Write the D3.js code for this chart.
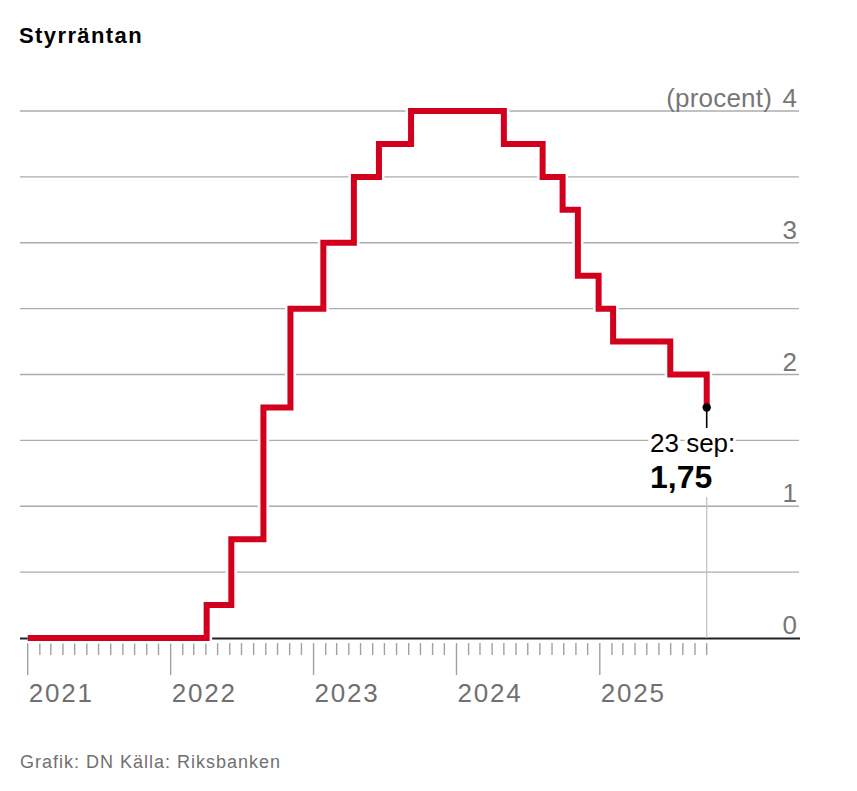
<!DOCTYPE html>
<html>
<head>
<meta charset="utf-8">
<title>Styrräntan</title>
<style>
body {
  margin: 0;
  background-color: #ffffff;
}
text {
  font-family: "Liberation Sans", Arial, sans-serif;
}
</style>
</head>
<body>
<script src="https://cdn.jsdelivr.net/npm/d3@7"></script>
<script>

// styrräntan, steg (datum då nivån börjar gälla i bilden)
var rateDates = ["2021-01-01", "2022-04-03", "2022-06-05", "2022-08-26", "2022-11-03",
                 "2023-01-26", "2023-04-14", "2023-06-17", "2023-09-07", "2024-05-01",
                 "2024-08-08", "2024-09-28", "2024-11-06", "2024-12-29", "2025-02-04",
                 "2025-06-30", "2025-10-01"];
var rateValues = [0, 0.25, 0.75, 1.75, 2.5,
                  3.0, 3.5, 3.75, 4.0, 3.75,
                  3.5, 3.25, 2.75, 2.5, 2.25,
                  2.0, 1.75];
var gridValues = [0.5, 1, 1.5, 2, 2.5, 3, 3.5, 4];
var yTickValues = [0, 1, 2, 3, 4];
var yearLabels = ["2021", "2022", "2023", "2024", "2025"];
var endLabel = "23 sep:";
var endValue = "1,75";

var w = 857;
var h = 791;
var left = 20;
var right = 800;

var parse = d3.timeParse("%Y-%m-%d");
var data = rateDates.map(function(d, i) {
  return {date: parse(d), value: rateValues[i]};
});

var x = d3.scaleTime()
          .domain([parse("2021-01-01"), parse("2025-10-01")])
          .range([27.7, 706.7]);
var y = d3.scaleLinear()
          .domain([0, 4])
          .range([638, 111]);

var svg = d3.select("body")
            .append("svg")
            .attr("width", w)
            .attr("height", h);

// title
svg.append("text")
   .text("Styrräntan")
   .attr("x", 19)
   .attr("y", 43)
   .attr("font-size", "22px")
   .attr("font-weight", "bold")
   .attr("letter-spacing", "1.4px")
   .attr("fill", "#000");

// grid
svg.selectAll("line.grid")
   .data(gridValues)
   .enter()
   .append("line")
   .attr("class", "grid")
   .attr("x1", left)
   .attr("x2", right - 1)
   .attr("y1", function(d) { return y(d); })
   .attr("y2", function(d) { return y(d); })
   .attr("stroke", "#acacac")
   .attr("stroke-width", 1.3);

// y labels
svg.selectAll("text.ylab")
   .data(yTickValues)
   .enter()
   .append("text")
   .attr("class", "ylab")
   .text(function(d) { return d; })
   .attr("x", 797)
   .attr("y", function(d) { return y(d) - 4; })
   .attr("text-anchor", "end")
   .attr("font-size", "26px")
   .attr("fill", "#777");

svg.append("text")
   .text("(procent)")
   .attr("x", 772)
   .attr("y", y(4) - 4)
   .attr("text-anchor", "end")
   .attr("font-size", "26px")
   .attr("letter-spacing", "0.2px")
   .attr("fill", "#777");

// ticks
var months = x.ticks(d3.timeMonth.every(1));
svg.selectAll("line.tick")
   .data(months)
   .enter()
   .append("line")
   .attr("class", "tick")
   .attr("x1", function(d) { return x(d); })
   .attr("x2", function(d) { return x(d); })
   .attr("y1", 643)
   .attr("y2", function(d) { return d.getMonth() === 0 ? 675 : 655; })
   .attr("stroke", "#a0a0a0")
   .attr("stroke-width", 1.4);

svg.selectAll("text.year")
   .data(yearLabels)
   .enter()
   .append("text")
   .attr("class", "year")
   .text(function(d) { return d; })
   .attr("x", function(d) { return x(parse(d + "-01-01")) + 1; })
   .attr("y", 702)
   .attr("font-size", "26px")
   .attr("letter-spacing", "1.8px")
   .attr("fill", "#707070");

// baseline
svg.append("line")
   .attr("x1", left)
   .attr("x2", right)
   .attr("y1", y(0) + 0.5)
   .attr("y2", y(0) + 0.5)
   .attr("stroke", "#222")
   .attr("stroke-width", 1.8);

// end marker stem
var last = data[data.length - 1];
svg.append("line")
   .attr("x1", x(last.date))
   .attr("x2", x(last.date))
   .attr("y1", 497)
   .attr("y2", y(0))
   .attr("stroke", "#c4c4c4")
   .attr("stroke-width", 1.3);

// line
var line = d3.line()
             .curve(d3.curveStepAfter)
             .x(function(d) { return x(d.date); })
             .y(function(d) { return y(d.value); });

svg.append("path")
   .datum(data)
   .attr("d", line)
   .attr("fill", "none")
   .attr("stroke", "#ffffff")
   .attr("stroke-width", 11);

svg.append("path")
   .datum(data)
   .attr("d", line)
   .attr("fill", "none")
   .attr("stroke", "#d2001c")
   .attr("stroke-width", 6);

// annotation
svg.append("line")
   .attr("x1", x(last.date))
   .attr("x2", x(last.date))
   .attr("y1", y(last.value))
   .attr("y2", 428)
   .attr("stroke", "#000")
   .attr("stroke-width", 1.6);

svg.append("circle")
   .attr("cx", x(last.date))
   .attr("cy", y(last.value))
   .attr("r", 4.2)
   .attr("fill", "#000");

svg.append("text")
   .text(endLabel)
   .attr("x", 650)
   .attr("y", 452)
   .attr("font-size", "26px")
   .attr("fill", "#000")
   .attr("stroke", "#fff")
   .attr("stroke-width", 6)
   .attr("paint-order", "stroke");

svg.append("text")
   .text(endValue)
   .attr("x", 650)
   .attr("y", 488)
   .attr("font-size", "32px")
   .attr("font-weight", "bold")
   .attr("fill", "#000")
   .attr("stroke", "#fff")
   .attr("stroke-width", 6)
   .attr("paint-order", "stroke");

// source
svg.append("text")
   .text("Grafik: DN Källa: Riksbanken")
   .attr("x", 20)
   .attr("y", 768)
   .attr("font-size", "18px")
   .attr("letter-spacing", "1px")
   .attr("fill", "#707070");

</script>
</body>
</html>
